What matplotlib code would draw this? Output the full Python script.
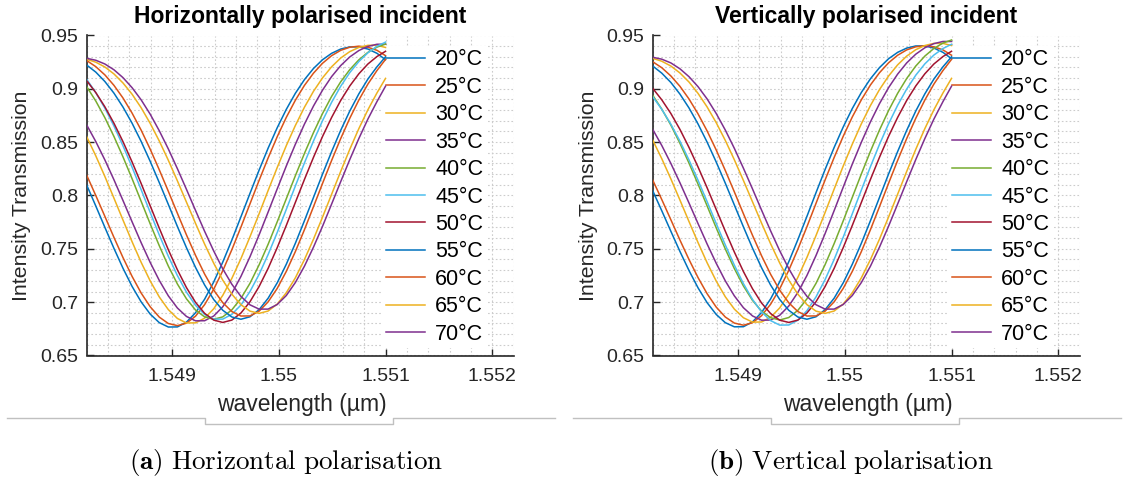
import matplotlib.pyplot as plt
from matplotlib.lines import Line2D
from matplotlib.ticker import MultipleLocator

plt.rcParams['font.family'] = ['Liberation Sans', 'DejaVu Sans']
plt.rcParams['mathtext.fontset'] = 'cm'

# temperatures and MATLAB default colour order
temps = [20, 25, 30, 35, 40, 45, 50, 55, 60, 65, 70]
labels = [f"{t}°C" for t in temps]
colors = ['#0072BD', '#D95319', '#EDB120', '#7E2F8E', '#77AC30', '#4DBEEE',
          '#A2142F', '#0072BD', '#D95319', '#EDB120', '#7E2F8E']

x_ticks = [1.549, 1.55, 1.551, 1.552]
x_tick_labels = ['1.549', '1.55', '1.551', '1.552']
y_ticks = [0.65, 0.7, 0.75, 0.8, 0.85, 0.9, 0.95]
y_tick_labels = ['0.65', '0.7', '0.75', '0.8', '0.85', '0.9', '0.95']

# sampled wavelengths (um), shared by every curve
wavelength = [1.548200, 1.548285, 1.548370, 1.548455, 1.548540, 1.548625,
              1.548710, 1.548795, 1.548880, 1.548965, 1.549050, 1.549135,
              1.549220, 1.549305, 1.549390, 1.549475, 1.549560, 1.549645,
              1.549730, 1.549815, 1.549900, 1.549985, 1.550070, 1.550155,
              1.550240, 1.550325, 1.550410, 1.550495, 1.550580, 1.550665,
              1.550750, 1.550835, 1.550920, 1.551000]

# horizontally polarised incident: transmission per temperature
h_tr = [
    [0.8098, 0.7902, 0.7702, 0.7505, 0.7318, 0.7148, 0.7003, 0.6888, 0.6808, 0.6767, 0.6768, 0.6813, 0.6901, 0.7028, 0.7189, 0.7376, 0.7582, 0.7800, 0.8020, 0.8237, 0.8444, 0.8635, 0.8807, 0.8958, 0.9086, 0.9191, 0.9273, 0.9333, 0.9373, 0.9393, 0.9393, 0.9373, 0.9333, 0.9273],
    [0.8190, 0.8000, 0.7805, 0.7608, 0.7418, 0.7242, 0.7086, 0.6957, 0.6860, 0.6800, 0.6780, 0.6803, 0.6869, 0.6977, 0.7121, 0.7295, 0.7492, 0.7703, 0.7922, 0.8141, 0.8352, 0.8551, 0.8732, 0.8893, 0.9032, 0.9147, 0.9240, 0.9311, 0.9361, 0.9390, 0.9400, 0.9390, 0.9361, 0.9311],
    [0.8551, 0.8372, 0.8179, 0.7976, 0.7770, 0.7567, 0.7374, 0.7199, 0.7049, 0.6930, 0.6847, 0.6805, 0.6806, 0.6850, 0.6938, 0.7064, 0.7223, 0.7408, 0.7613, 0.7828, 0.8047, 0.8262, 0.8467, 0.8656, 0.8827, 0.8977, 0.9103, 0.9207, 0.9289, 0.9349, 0.9388, 0.9408, 0.9408, 0.9388],
    [0.8661, 0.8506, 0.8334, 0.8148, 0.7953, 0.7754, 0.7558, 0.7372, 0.7204, 0.7059, 0.6945, 0.6866, 0.6825, 0.6826, 0.6870, 0.6957, 0.7083, 0.7241, 0.7426, 0.7630, 0.7845, 0.8062, 0.8276, 0.8480, 0.8669, 0.8839, 0.8988, 0.9115, 0.9218, 0.9299, 0.9359, 0.9398, 0.9418, 0.9418],
    [0.9020, 0.8886, 0.8730, 0.8554, 0.8362, 0.8158, 0.7946, 0.7734, 0.7529, 0.7338, 0.7170, 0.7031, 0.6926, 0.6862, 0.6840, 0.6862, 0.6928, 0.7035, 0.7177, 0.7349, 0.7543, 0.7753, 0.7969, 0.8185, 0.8394, 0.8590, 0.8769, 0.8929, 0.9066, 0.9180, 0.9272, 0.9342, 0.9391, 0.9420],
    [0.9089, 0.8965, 0.8819, 0.8652, 0.8466, 0.8266, 0.8055, 0.7841, 0.7630, 0.7430, 0.7249, 0.7093, 0.6970, 0.6884, 0.6841, 0.6841, 0.6886, 0.6973, 0.7100, 0.7260, 0.7447, 0.7653, 0.7869, 0.8089, 0.8305, 0.8511, 0.8702, 0.8874, 0.9024, 0.9152, 0.9256, 0.9338, 0.9399, 0.9438],
    [0.9076, 0.8965, 0.8832, 0.8678, 0.8505, 0.8315, 0.8113, 0.7903, 0.7694, 0.7491, 0.7303, 0.7136, 0.6998, 0.6895, 0.6832, 0.6810, 0.6832, 0.6898, 0.7004, 0.7146, 0.7317, 0.7511, 0.7719, 0.7935, 0.8150, 0.8358, 0.8554, 0.8732, 0.8891, 0.9027, 0.9141, 0.9233, 0.9303, 0.9352],
    [0.9223, 0.9157, 0.9069, 0.8960, 0.8829, 0.8678, 0.8507, 0.8320, 0.8121, 0.7916, 0.7709, 0.7510, 0.7325, 0.7161, 0.7025, 0.6924, 0.6861, 0.6840, 0.6863, 0.6929, 0.7037, 0.7181, 0.7355, 0.7552, 0.7763, 0.7982, 0.8201, 0.8412, 0.8611, 0.8792, 0.8953, 0.9092, 0.9207, 0.9300],
    [0.9265, 0.9208, 0.9131, 0.9033, 0.8914, 0.8773, 0.8613, 0.8434, 0.8241, 0.8039, 0.7833, 0.7630, 0.7438, 0.7263, 0.7113, 0.6995, 0.6912, 0.6870, 0.6871, 0.6915, 0.7003, 0.7129, 0.7288, 0.7474, 0.7679, 0.7895, 0.8114, 0.8329, 0.8534, 0.8724, 0.8895, 0.9045, 0.9172, 0.9276],
    [0.9277, 0.9250, 0.9205, 0.9140, 0.9055, 0.8950, 0.8823, 0.8676, 0.8511, 0.8330, 0.8137, 0.7937, 0.7738, 0.7544, 0.7365, 0.7206, 0.7075, 0.6976, 0.6916, 0.6895, 0.6917, 0.6982, 0.7088, 0.7228, 0.7399, 0.7591, 0.7798, 0.8012, 0.8226, 0.8433, 0.8627, 0.8804, 0.8962, 0.9098],
    [0.9286, 0.9268, 0.9233, 0.9179, 0.9105, 0.9011, 0.8897, 0.8762, 0.8607, 0.8436, 0.8251, 0.8057, 0.7859, 0.7664, 0.7480, 0.7312, 0.7168, 0.7054, 0.6975, 0.6935, 0.6935, 0.6978, 0.7062, 0.7184, 0.7337, 0.7516, 0.7712, 0.7920, 0.8130, 0.8337, 0.8534, 0.8717, 0.8881, 0.9025],
]

# vertically polarised incident: transmission per temperature
v_tr = [
    [0.8045, 0.7857, 0.7665, 0.7476, 0.7297, 0.7134, 0.6995, 0.6885, 0.6808, 0.6769, 0.6770, 0.6815, 0.6903, 0.7031, 0.7192, 0.7379, 0.7586, 0.7804, 0.8026, 0.8243, 0.8450, 0.8642, 0.8815, 0.8966, 0.9094, 0.9199, 0.9282, 0.9342, 0.9382, 0.9402, 0.9402, 0.9382, 0.9342, 0.9282],
    [0.8145, 0.7962, 0.7773, 0.7583, 0.7400, 0.7230, 0.7079, 0.6954, 0.6861, 0.6804, 0.6784, 0.6807, 0.6873, 0.6981, 0.7125, 0.7299, 0.7496, 0.7707, 0.7926, 0.8145, 0.8356, 0.8555, 0.8736, 0.8897, 0.9036, 0.9151, 0.9244, 0.9315, 0.9365, 0.9394, 0.9404, 0.9394, 0.9365, 0.9315],
    [0.8520, 0.8345, 0.8156, 0.7958, 0.7756, 0.7558, 0.7369, 0.7198, 0.7051, 0.6935, 0.6854, 0.6813, 0.6814, 0.6859, 0.6946, 0.7073, 0.7232, 0.7419, 0.7624, 0.7840, 0.8060, 0.8276, 0.8481, 0.8672, 0.8843, 0.8993, 0.9120, 0.9225, 0.9307, 0.9367, 0.9406, 0.9426, 0.9426, 0.9406],
    [0.8620, 0.8469, 0.8301, 0.8120, 0.7930, 0.7736, 0.7545, 0.7365, 0.7200, 0.7059, 0.6948, 0.6871, 0.6831, 0.6832, 0.6877, 0.6964, 0.7091, 0.7250, 0.7437, 0.7642, 0.7858, 0.8078, 0.8294, 0.8499, 0.8690, 0.8861, 0.9011, 0.9138, 0.9243, 0.9325, 0.9385, 0.9424, 0.9444, 0.9444],
    [0.8940, 0.8810, 0.8660, 0.8490, 0.8304, 0.8106, 0.7902, 0.7697, 0.7499, 0.7315, 0.7152, 0.7017, 0.6916, 0.6854, 0.6833, 0.6856, 0.6923, 0.7031, 0.7176, 0.7351, 0.7549, 0.7762, 0.7982, 0.8202, 0.8414, 0.8614, 0.8796, 0.8958, 0.9097, 0.9214, 0.9307, 0.9379, 0.9429, 0.9458],
    [0.8926, 0.8808, 0.8669, 0.8510, 0.8333, 0.8142, 0.7942, 0.7738, 0.7537, 0.7347, 0.7174, 0.7026, 0.6908, 0.6827, 0.6785, 0.6786, 0.6831, 0.6920, 0.7049, 0.7211, 0.7400, 0.7609, 0.7828, 0.8051, 0.8270, 0.8479, 0.8672, 0.8846, 0.8998, 0.9128, 0.9234, 0.9317, 0.9378, 0.9418],
    [0.9005, 0.8897, 0.8769, 0.8620, 0.8451, 0.8267, 0.8072, 0.7869, 0.7666, 0.7470, 0.7287, 0.7126, 0.6992, 0.6893, 0.6831, 0.6810, 0.6832, 0.6898, 0.7004, 0.7146, 0.7317, 0.7511, 0.7719, 0.7935, 0.8150, 0.8358, 0.8554, 0.8732, 0.8891, 0.9027, 0.9141, 0.9233, 0.9303, 0.9352],
    [0.9214, 0.9147, 0.9060, 0.8951, 0.8821, 0.8670, 0.8500, 0.8314, 0.8116, 0.7911, 0.7706, 0.7507, 0.7323, 0.7160, 0.7025, 0.6924, 0.6861, 0.6840, 0.6863, 0.6929, 0.7037, 0.7181, 0.7355, 0.7552, 0.7763, 0.7982, 0.8201, 0.8412, 0.8611, 0.8792, 0.8953, 0.9092, 0.9207, 0.9300],
    [0.9254, 0.9198, 0.9121, 0.9024, 0.8905, 0.8765, 0.8605, 0.8427, 0.8235, 0.8034, 0.7829, 0.7627, 0.7435, 0.7261, 0.7112, 0.6994, 0.6912, 0.6870, 0.6871, 0.6915, 0.7003, 0.7129, 0.7288, 0.7474, 0.7679, 0.7895, 0.8114, 0.8329, 0.8534, 0.8724, 0.8895, 0.9045, 0.9172, 0.9276],
    [0.9286, 0.9259, 0.9214, 0.9149, 0.9064, 0.8957, 0.8830, 0.8683, 0.8517, 0.8335, 0.8141, 0.7941, 0.7741, 0.7547, 0.7367, 0.7207, 0.7075, 0.6977, 0.6916, 0.6895, 0.6917, 0.6982, 0.7088, 0.7228, 0.7399, 0.7591, 0.7798, 0.8012, 0.8226, 0.8433, 0.8627, 0.8804, 0.8962, 0.9098],
    [0.9296, 0.9278, 0.9243, 0.9188, 0.9114, 0.9020, 0.8905, 0.8769, 0.8614, 0.8442, 0.8256, 0.8062, 0.7863, 0.7668, 0.7482, 0.7314, 0.7169, 0.7055, 0.6976, 0.6935, 0.6935, 0.6978, 0.7062, 0.7184, 0.7337, 0.7516, 0.7712, 0.7920, 0.8130, 0.8337, 0.8534, 0.8717, 0.8881, 0.9025],
]

W, H = 1126, 482


def fx(px):
    return px / W


def fy(py):
    return 1 - py / H


def draw_panel(ax, tr):
    for y, c, lab in zip(tr, colors, labels):
        ax.plot(wavelength, y, color=c, lw=1.1, label=lab, zorder=3)
    ax.set_xlim(1.5482, 1.5522)
    ax.set_ylim(0.65, 0.95)
    ax.set_xticks(x_ticks, x_tick_labels)
    ax.set_yticks(y_ticks, y_tick_labels)
    ax.xaxis.set_minor_locator(MultipleLocator(0.0002))
    ax.yaxis.set_minor_locator(MultipleLocator(0.01))
    ax.tick_params(which='major', direction='in', length=5, width=1,
                   color='#262626', labelsize=14, labelcolor='#262626')
    ax.tick_params(axis='x', pad=9)
    ax.tick_params(axis='y', pad=6)
    ax.tick_params(which='minor', length=0)
    ax.grid(which='both', linestyle=(0, (1.5, 2)), color='#cccccc', linewidth=0.8)
    ax.set_axisbelow(True)
    for s in ['top', 'right']:
        ax.spines[s].set_visible(False)
    for s in ['left', 'bottom']:
        ax.spines[s].set_color('#262626')
        ax.spines[s].set_linewidth(1.2)


fig = plt.figure(figsize=(W / 100, H / 100), dpi=100)

panels = [
    (86.7, h_tr, 'Horizontally polarised incident', r'$\mathbf{(a)}\ \mathrm{Horizontal\ polarisation}$', 286),
    (652.7, v_tr, 'Vertically polarised incident', r'$\mathbf{(b)}\ \mathrm{Vertical\ polarisation}$', 851),
]

for left, tr, title, caption, cap_x in panels:
    ax = fig.add_axes([fx(left), fy(355.5), 426.9 / W, 320 / H])
    draw_panel(ax, tr)
    leg = ax.legend(loc='upper left', bbox_to_anchor=(fx(left + 296), fy(46)),
                    bbox_transform=fig.transFigure, borderaxespad=0, borderpad=0.15,
                    handlelength=1.81, handletextpad=0.48, labelspacing=0.30,
                    fontsize=15.5, frameon=True, facecolor='white', edgecolor='none',
                    fancybox=False, framealpha=1)
    leg.set_zorder(2)
    cx = left + 213.5
    fig.text(fx(cx), fy(17), title, ha='center', va='center',
             fontsize=16.5, fontweight='bold')
    fig.text(fx(left - 64.7), fy(196), 'Intensity Transmission', rotation=90,
             ha='center', va='center', fontsize=15.3, color='#262626')
    fig.text(fx(cx + 1.5), fy(405), 'wavelength (µm)', ha='center', va='center',
             fontsize=16.5, color='#262626')
    # page divider with notch under the axis label
    xs = [left - 80, cx - 95, cx - 95, cx + 93, cx + 93, left + 468]
    ys = [418, 418, 424, 424, 418, 418]
    fig.add_artist(Line2D([fx(v) for v in xs], [fy(v) for v in ys],
                          color='#c0c0c0', lw=1))
    fig.text(fx(cap_x), fy(463), caption, ha='center', va='center', fontsize=19.5)

fig.savefig('out.png', dpi=100)
